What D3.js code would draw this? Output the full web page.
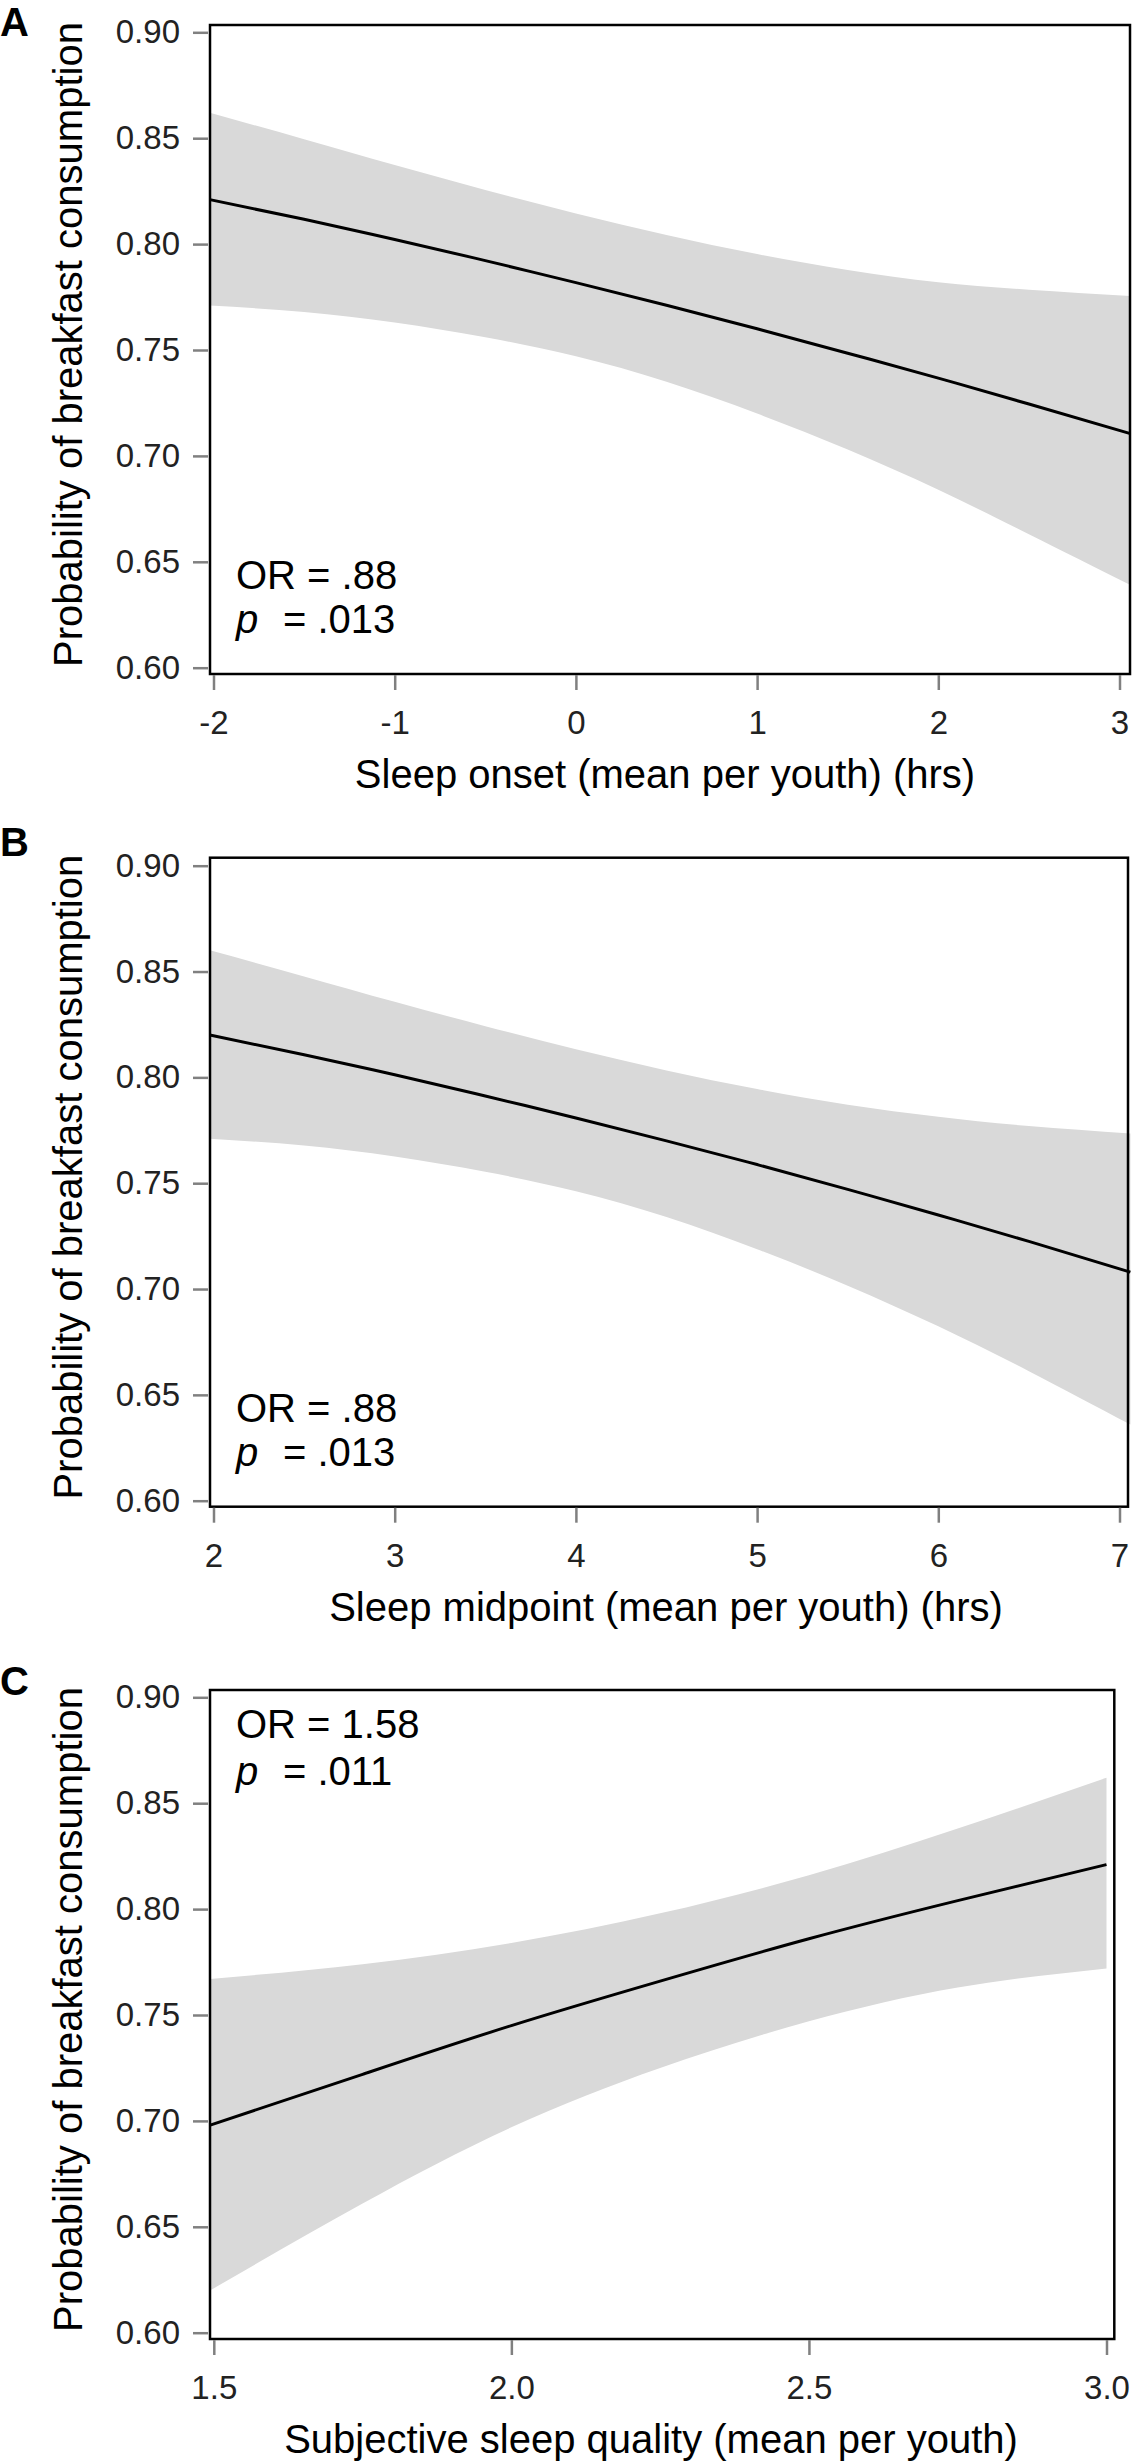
<!DOCTYPE html>
<html><head><meta charset="utf-8">
<script src="https://cdn.jsdelivr.net/npm/d3@7"></script>
<style>
body{margin:0;background:#fff}
svg{display:block}
text{font-family:"Liberation Sans", Arial, Helvetica, sans-serif}
</style>
</head><body>
<svg id="chart" width="1136" height="2464"></svg>
<script>
// ---------- data ----------
const yTicks = [0.60, 0.65, 0.70, 0.75, 0.80, 0.85, 0.90];
const yTitle = "Probability of breakfast consumption";

// Panel A: sleep onset
const aX     = [-2.02, -1.5, -1, -0.5, 0, 0.5, 1, 1.5, 2, 2.5, 3.06];
const aFit   = [0.8210, 0.8117, 0.8022, 0.7922, 0.7818, 0.7711, 0.7600, 0.7485, 0.7367, 0.7245, 0.7105];
const aUpper = [0.8620, 0.8495, 0.8373, 0.8256, 0.8145, 0.8043, 0.7953, 0.7878, 0.7820, 0.7785, 0.7755];
const aLower = [0.7710, 0.7680, 0.7630, 0.7560, 0.7470, 0.7350, 0.7200, 0.7030, 0.6840, 0.6630, 0.6390];
const aTicks = [-2, -1, 0, 1, 2, 3];
const aTitle = "Sleep onset (mean per youth) (hrs)";
const aStats = ["OR = .88", ".013"];

// Panel B: sleep midpoint
const bX     = [1.98, 2.5, 3, 3.5, 4, 4.5, 5, 5.5, 6, 6.5, 7.06];
const bFit   = [0.8200, 0.8107, 0.8012, 0.7912, 0.7808, 0.7700, 0.7588, 0.7471, 0.7350, 0.7225, 0.7080];
const bUpper = [0.8600, 0.8477, 0.8357, 0.8242, 0.8133, 0.8033, 0.7945, 0.7871, 0.7814, 0.7770, 0.7735];
const bLower = [0.7710, 0.7678, 0.7626, 0.7554, 0.7462, 0.7340, 0.7188, 0.7016, 0.6824, 0.6612, 0.6360];
const bTicks = [2, 3, 4, 5, 6, 7];
const bTitle = "Sleep midpoint (mean per youth) (hrs)";
const bStats = ["OR = .88", ".013"];

// Panel C: subjective sleep quality
const cX     = [1.494, 1.75, 2.0, 2.25, 2.5, 2.75, 3.0];
const cFit   = [0.698, 0.722, 0.745, 0.766, 0.786, 0.804, 0.821];
const cUpper = [0.767, 0.774, 0.784, 0.798, 0.816, 0.838, 0.862];
const cLower = [0.620, 0.661, 0.697, 0.725, 0.747, 0.763, 0.772];
const cTicks = [1.5, 2.0, 2.5, 3.0];
const cTitle = "Subjective sleep quality (mean per youth)";
const cStats = ["OR = 1.58", ".011"];

const letters = ["A", "B", "C"];

// ---------- layout ----------
const intFmt = d => String(d);
const panels = [
  {x: aX, fit: aFit, up: aUpper, lo: aLower, ticks: aTicks, fmt: intFmt, title: aTitle, stats: aStats,
   top: 25, bottom: 674, y90: 32.3, y60: 667.7, left: 210, right: 1130, t0: 213.5, t1: 1119.5,
   letterY: 36, statTop: false, titleX: 665},
  {x: bX, fit: bFit, up: bUpper, lo: bLower, ticks: bTicks, fmt: intFmt, title: bTitle, stats: bStats,
   top: 857.7, bottom: 1506.7, y90: 865.7, y60: 1500.7, left: 210, right: 1128, t0: 213.5, t1: 1119.5,
   letterY: 856, statTop: false, titleX: 666},
  {x: cX, fit: cFit, up: cUpper, lo: cLower, ticks: cTicks, fmt: d3.format(".1f"), title: cTitle, stats: cStats,
   top: 1690, bottom: 2339, y90: 1697.3, y60: 2332.7, left: 210, right: 1114.3, t0: 213.8, t1: 1106.5,
   letterY: 1695, statTop: true, titleX: 651}
];

const svg = d3.select("#chart");

panels.forEach((p, i) => {
  const x = d3.scaleLinear().domain([p.ticks[0], p.ticks[p.ticks.length - 1]]).range([p.t0, p.t1]);
  const y = d3.scaleLinear().domain([0.60, 0.90]).range([p.y60, p.y90]);
  const g = svg.append("g");
  const rows = p.x.map((v, k) => ({x: v, fit: p.fit[k], up: p.up[k], lo: p.lo[k]}));
  const curve = d3.curveNatural;

  g.append("path").datum(rows)
    .attr("fill", "#d9d9d9")
    .attr("d", d3.area().curve(curve).x(d => x(d.x)).y0(d => y(d.lo)).y1(d => y(d.up)));

  g.append("path").datum(rows)
    .attr("fill", "none").attr("stroke", "#000").attr("stroke-width", 3)
    .attr("d", d3.line().curve(curve).x(d => x(d.x)).y(d => y(d.fit)));

  g.append("rect")
    .attr("x", p.left).attr("y", p.top)
    .attr("width", p.right - p.left).attr("height", p.bottom - p.top)
    .attr("fill", "none").attr("stroke", "#000").attr("stroke-width", 2.5);

  // y axis
  const ya = g.append("g").attr("transform", `translate(208,0)`)
    .call(d3.axisLeft(y).tickValues(yTicks).tickFormat(d3.format(".2f")).tickSize(15).tickPadding(13));
  ya.select(".domain").remove();
  ya.selectAll(".tick line").attr("stroke", "#808080").attr("stroke-width", 2.5);
  ya.selectAll(".tick text").attr("font-size", 33).attr("fill", "#222")
    .style("font-family", '"Liberation Sans", Arial, sans-serif');

  // x axis
  const xa = g.append("g").attr("transform", `translate(0,${p.bottom + 1})`)
    .call(d3.axisBottom(x).tickValues(p.ticks).tickFormat(p.fmt).tickSize(15).tickPadding(21));
  xa.select(".domain").remove();
  xa.selectAll(".tick line").attr("stroke", "#808080").attr("stroke-width", 2.5);
  xa.selectAll(".tick text").attr("font-size", 33).attr("fill", "#222")
    .style("font-family", '"Liberation Sans", Arial, sans-serif');

  // x title
  g.append("text").attr("x", p.titleX).attr("y", p.bottom + 114)
    .attr("text-anchor", "middle").attr("font-size", 40).attr("fill", "#000").text(p.title);

  // y title
  const cy = (p.top + p.bottom) / 2 - 5;
  g.append("text").attr("transform", `translate(82,${cy}) rotate(-90)`)
    .attr("text-anchor", "middle").attr("font-size", 40).attr("fill", "#000").text(yTitle);

  // panel letter
  g.append("text").attr("x", 0).attr("y", p.letterY).attr("font-size", 40)
    .attr("font-weight", "bold").attr("fill", "#000").text(letters[i]);

  // stats
  const s1 = p.statTop ? p.top + 48 : p.bottom - 85;
  const s2 = p.statTop ? p.top + 95 : p.bottom - 41;
  g.append("text").attr("x", 236).attr("y", s1).attr("font-size", 40).attr("fill", "#000").text(p.stats[0]);
  const t2 = g.append("text").attr("x", 236).attr("y", s2).attr("font-size", 40).attr("fill", "#000");
  t2.append("tspan").attr("font-style", "italic").text("p");
  t2.append("tspan").attr("x", 283).text("= " + p.stats[1]);
});
</script>
</body></html>
